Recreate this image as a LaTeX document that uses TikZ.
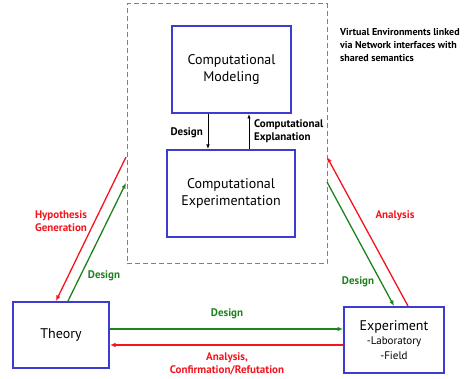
\documentclass[tikz,border=0pt]{standalone}
\usepackage{fontspec}
\setmainfont{PT Sans}
\usetikzlibrary{arrows.meta,calc}
\definecolor{boxblue}{RGB}{60,60,210}
\definecolor{lred}{RGB}{245,20,30}
\definecolor{lgreen}{RGB}{30,130,30}
\begin{document}
\begin{tikzpicture}[x=1pt,y=-1pt,
  bx/.style={draw=boxblue,line width=2pt,fill=white,align=center,inner sep=0pt,font=\fontsize{14}{17}\selectfont},
  arr/.style={line width=1.3pt,-{Latex[length=5.5pt,width=4.5pt]}},
  lbl/.style={font=\bfseries\fontsize{11}{13.5}\selectfont,align=center,inner sep=0pt}]
\useasboundingbox (0,0) rectangle (471,379);
% dashed virtual environment box
\node[draw=gray,dashed,line width=1pt,dash pattern=on 5pt off 3pt,minimum width=200pt,minimum height=260pt,inner sep=0pt] (venv) at (227,134) {};
\node[bx,minimum width=119pt,minimum height=87pt] (cm) at (231.5,69.5) {Computational\\Modeling};
\node[bx,minimum width=128pt,minimum height=87pt] (ce) at (231,193.5) {Computational\\Experimentation};
\node[bx,minimum width=96pt,minimum height=66pt] (theory) at (61,335) {Theory};
\node[bx,minimum width=100pt,minimum height=66pt] (exp) at (394,340) {Experiment\\[-3pt]{\fontsize{11}{13}\selectfont -Laboratory}\\[-2pt]{\fontsize{11}{13}\selectfont -Field}};
% text
\node[lbl,align=left,anchor=north west,font=\bfseries\fontsize{10}{13}\selectfont] (ve) at (340,28) {Virtual Environments linked\\via Network interfaces with\\shared semantics};
% inner arrows
\draw[line width=0.8pt,-{Latex[length=4.5pt,width=3.5pt]}] ([xshift=-23.5pt]cm.south) coordinate (d1) -- (d1 |- ce.north);
\draw[line width=0.8pt,-{Latex[length=4.5pt,width=3.5pt]}] ([xshift=18pt]ce.north) coordinate (e1) -- (e1 |- cm.south);
\node[lbl,anchor=east] (ld) at (203,133) {Design};
\node[lbl,anchor=west,align=left] (le) at (254,131) {Computational\\Explanation};
% diagonal left
\coordinate (hl) at (126,157);
\coordinate (gl) at (126,183);
\draw[arr,draw=lred] (hl) -- ([xshift=-5pt]theory.north);
\draw[arr,draw=lgreen] ([xshift=7pt]theory.north) -- (gl);
\node[lbl,text=lred] (lhg) at (61,221) {Hypothesis\\Generation};
\node[lbl,text=lgreen] (ldl) at (104,276) {Design};
% diagonal right
\coordinate (hr) at (327,157);
\coordinate (gr) at (327,182);
\draw[arr,draw=lred] ([xshift=14pt]exp.north) -- (hr);
\draw[arr,draw=lgreen] (gr) -- (exp.north);
\node[lbl,text=lred] (la) at (395,216) {Analysis};
\node[lbl,text=lgreen] (ldr) at (358,282) {Design};
% horizontal
\draw[arr,draw=lgreen] ([yshift=6pt]theory.east) coordinate (t1) -- (t1 -| exp.west);
\draw[arr,draw=lred] ([yshift=-5pt]exp.west) coordinate (t2) -- (t2 -| theory.east);
\node[lbl,text=lgreen] (ldb) at (227,314) {Design};
\node[lbl,text=lred] (lac) at (227,364) {Analysis,\\Confirmation/Refutation};
\end{tikzpicture}
\end{document}
